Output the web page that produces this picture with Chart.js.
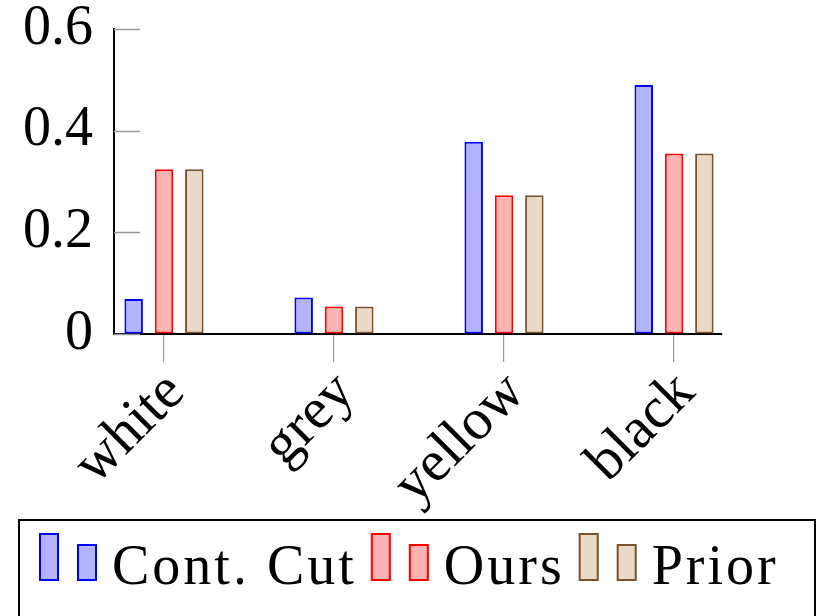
<!DOCTYPE html>
<html>
<head>
<meta charset="utf-8">
<script src="https://cdn.jsdelivr.net/npm/chart.js@4/dist/chart.umd.min.js"></script>
<style>
  html, body { margin: 0; padding: 0; background: #fff; }
  #wrap { width: 819px; height: 616px; }
</style>
</head>
<body>
<div id="wrap"><canvas id="barChart" width="819" height="616"></canvas></div>
<script>
// data
const categories = ['white', 'grey', 'yellow', 'black'];
const contCut = [0.069, 0.072, 0.378, 0.490];
const ours = [0.324, 0.054, 0.273, 0.355];
const prior = [0.324, 0.054, 0.273, 0.355];
const seriesNames = ['Cont. Cut', 'Ours', 'Prior'];
const yTicks = [0, 0.2, 0.4, 0.6];
const yTickLabels = ['0', '0.2', '0.4', '0.6'];

const FONT = '"Liberation Serif", "Times New Roman", serif';
Chart.defaults.font.family = FONT;
Chart.defaults.color = '#000';

const toPoints = (arr) => arr.map((v, i) => ({ x: i, y: v }));

// short inward ticks on the y axis (pgfplots style)
const yInnerTicks = {
    id: 'yInnerTicks',
    beforeDatasetsDraw(chart) {
        const { ctx, chartArea, scales } = chart;
        ctx.save();
        ctx.strokeStyle = '#999';
        ctx.lineWidth = 1.5;
        yTicks.forEach((v) => {
            const y = Math.round(scales.y.getPixelForValue(v)) + 0.5;
            ctx.beginPath();
            ctx.moveTo(chartArea.left, y);
            ctx.lineTo(chartArea.left + 26, y);
            ctx.stroke();
        });
        ctx.restore();
    },
};

// boxed legend below the plot, two bar icons per entry
const boxLegend = {
    id: 'boxLegend',
    afterDraw(chart) {
        const ctx = chart.ctx;
        ctx.save();
        ctx.strokeStyle = '#000';
        ctx.lineWidth = 2;
        ctx.strokeRect(19, 520, 796, 120);

        ctx.font = '56px ' + FONT;
        ctx.letterSpacing = '3px';
        ctx.textBaseline = 'alphabetic';
        let x = 39;
        chart.data.datasets.forEach((ds) => {
            [[533, 48], [544, 37]].forEach(([top, h], k) => {
                const ix = x + k * 38;
                ctx.fillStyle = ds.backgroundColor;
                ctx.fillRect(ix, top, 20, h);
                ctx.strokeStyle = ds.borderColor;
                ctx.lineWidth = 2;
                ctx.strokeRect(ix + 1, top + 1, 18, h - 2);
            });
            const tx = x + 73;
            ctx.fillStyle = '#000';
            ctx.fillText(ds.label, tx, 584);
            x = tx + ctx.measureText(ds.label).width + 14;
        });
        ctx.restore();
    },
};

const barStyle = {
    borderWidth: 2,
    borderSkipped: false,
    categoryPercentage: 0.535,
    barPercentage: 0.61,
};

const config = {
    type: 'bar',
    data: {
        datasets: [
            {
                label: seriesNames[0],
                data: toPoints(contCut),
                backgroundColor: 'rgb(179, 179, 255)',
                borderColor: 'rgb(0, 0, 255)',
                ...barStyle,
            },
            {
                label: seriesNames[1],
                data: toPoints(ours),
                backgroundColor: 'rgb(255, 179, 179)',
                borderColor: 'rgb(255, 0, 0)',
                ...barStyle,
            },
            {
                label: seriesNames[2],
                data: toPoints(prior),
                backgroundColor: 'rgb(234, 217, 198)',
                borderColor: 'rgb(122, 84, 48)',
                ...barStyle,
            },
        ],
    },
    options: {
        responsive: false,
        animation: false,
        events: [],
        layout: { padding: { left: 0, top: 29, right: 97, bottom: 98 } },
        scales: {
            x: {
                type: 'linear',
                offset: false,
                min: -0.294,
                max: 3.282,
                z: 1,
                afterBuildTicks: (scale) => {
                    scale.ticks = categories.map((_, i) => ({ value: i }));
                },
                afterFit: (scale) => { scale.height = 184; },
                grid: {
                    offset: false,
                    drawOnChartArea: false,
                    drawTicks: true,
                    tickLength: 28,
                    color: '#999',
                    lineWidth: 1.2,
                },
                border: { display: true, color: '#000', width: 2 },
                ticks: {
                    autoSkip: false,
                    minRotation: 45,
                    maxRotation: 45,
                    padding: 1,
                    labelOffset: 12,
                    font: { size: 58, lineHeight: 1 },
                    callback: (v) => categories[v],
                },
            },
            y: {
                min: 0,
                max: 0.6,
                afterBuildTicks: (scale) => {
                    scale.ticks = yTicks.map((v) => ({ value: v }));
                },
                afterFit: (scale) => { scale.width = 114; },
                grid: { drawOnChartArea: false, drawTicks: false },
                border: { display: true, color: '#000', width: 2 },
                ticks: {
                    padding: 21,
                    font: { size: 56, lineHeight: 0.25 },
                    callback: (v) => yTickLabels[yTicks.indexOf(v)],
                },
            },
        },
        plugins: {
            legend: { display: false },
            tooltip: { enabled: false },
        },
    },
    plugins: [yInnerTicks, boxLegend],
};

const barChart = new Chart(document.getElementById('barChart'), config);
</script>
</body>
</html>
